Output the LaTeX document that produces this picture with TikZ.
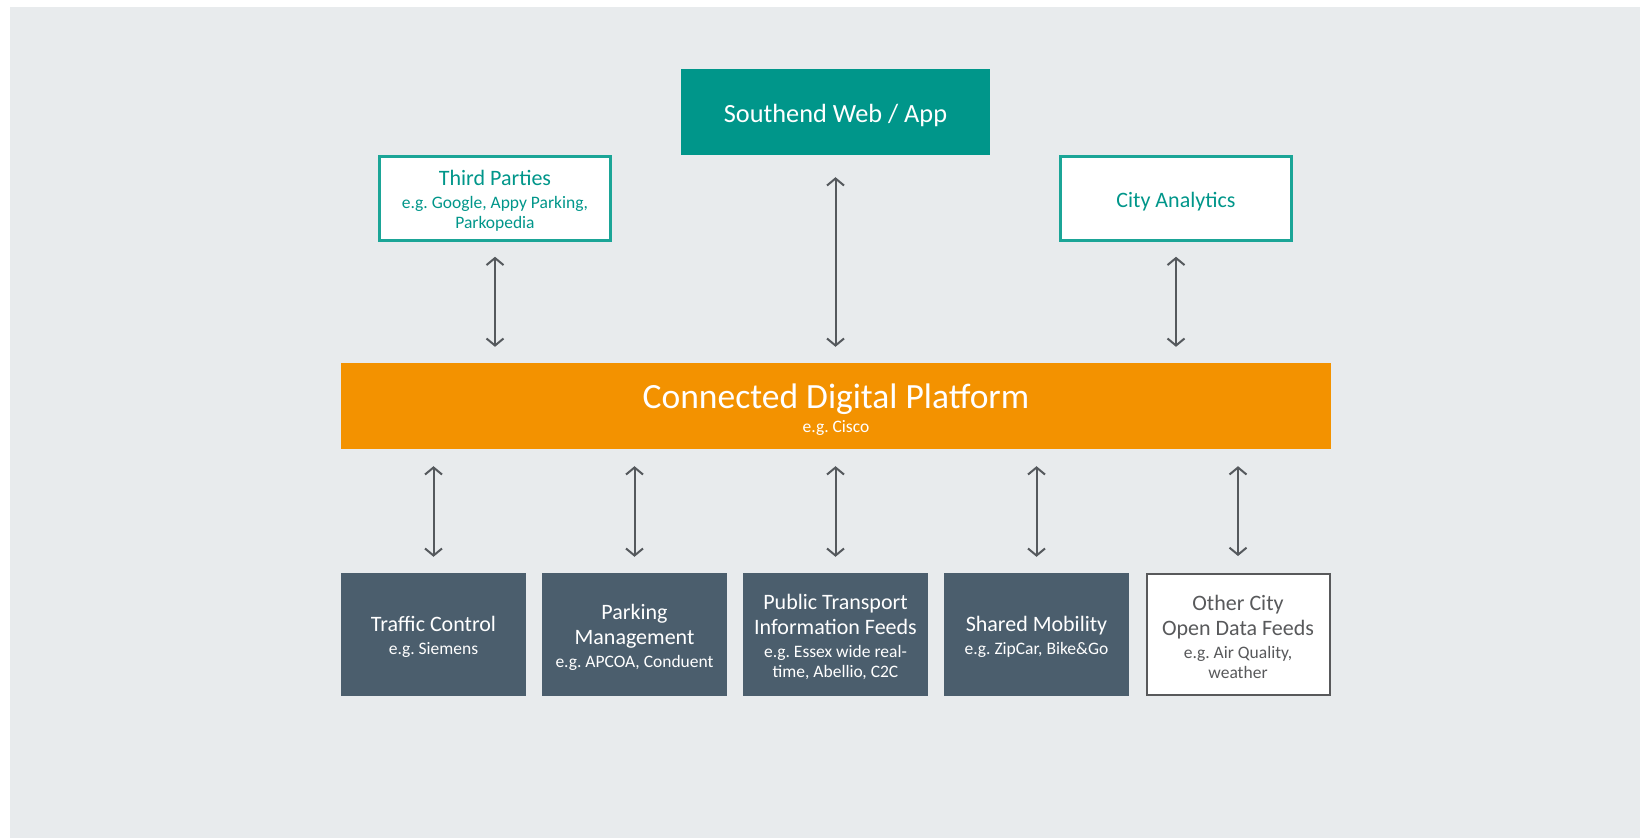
\documentclass[tikz,border=0pt]{standalone}
\usepackage{fontspec}
\setmainfont{Carlito}
\frenchspacing
\usetikzlibrary{arrows.meta}
\definecolor{bggray}{HTML}{E8EBED}
\definecolor{teal1}{HTML}{00968A}
\definecolor{tealline}{HTML}{1BA597}
\definecolor{orange1}{HTML}{F39200}
\definecolor{slate}{HTML}{4B5E6D}
\definecolor{arrgray}{HTML}{55595D}
\definecolor{othergray}{HTML}{58595B}
\newcommand{\ttl}{\fontsize{22}{25.5}\selectfont}
\newcommand{\sbt}{\fontsize{17.5}{20.5}\selectfont}
\tikzset{
  x=1pt, y=-1pt,
  boxbase/.style={rectangle, inner sep=0pt, minimum height=123pt, minimum width=185pt},
  slatebox/.style={boxbase, fill=slate},
  openbox/.style={boxbase, fill=white, draw=othergray, line width=2pt, minimum width=183pt, minimum height=121pt},
  tealbox/.style={rectangle, inner sep=0pt, fill=white, draw=tealline, line width=2.5pt, minimum width=231pt, minimum height=84pt},
  boxtext/.style={inner sep=0pt, align=center, font=\ttl},
  arr/.style={draw=arrgray, line width=2pt, {Straight Barb[length=7pt,width=17pt,line width=2pt]}-{Straight Barb[length=7pt,width=17pt,line width=2pt]}}
}
\begin{document}
\begin{tikzpicture}
\useasboundingbox (0,0) rectangle (1648,839);
\fill[white] (0,0) rectangle (1648,839);
\fill[bggray] (10,7) rectangle (1640,838);

% top row
\node[rectangle, fill=teal1, minimum width=309pt, minimum height=86pt, inner sep=0pt] (web) at (835.5,112) {};
\node[boxtext, text=white, font=\fontsize{26.3}{30}\selectfont] (web-t) at ([yshift=-3pt]web.center) {Southend Web / App};

\node[tealbox] (third) at (495,198.5) {};
\node[boxtext, text=teal1] (third-t) at ([yshift=-2.5pt]third.center) {Third Parties\\[-3pt]\sbt e.g. Google, Appy Parking,\\[-5pt]\sbt Parkopedia};

\node[tealbox] (city) at (1176,198.5) {};
\node[boxtext, text=teal1] (city-t) at ([yshift=-3pt]city.center) {City Analytics};

% platform
\node[rectangle, fill=orange1, minimum width=990pt, minimum height=86pt, inner sep=0pt] (cdp) at (836,406) {};
\node[boxtext, text=white, font=\fontsize{35.5}{24}\selectfont] (cdp-t) at ([yshift=-4pt]cdp.center) {Connected Digital Platform\\\fontsize{17.5}{20}\selectfont e.g. Cisco};

% bottom row
\node[slatebox] (traffic) at (433.5,634.5) {};
\node[slatebox] (parking) at (634.5,634.5) {};
\node[slatebox] (pt) at (835.5,634.5) {};
\node[slatebox] (shared) at (1036.5,634.5) {};
\node[openbox] (other) at (1238,634.5) {};

\node[boxtext, text=white] (traffic-t) at ([yshift=-2.5pt]traffic.center) {Traffic Control\\[-3pt]\sbt e.g. Siemens};
\node[boxtext, text=white] (parking-t) at ([yshift=-2.5pt]parking.center) {Parking\\Management\\[-3pt]\sbt e.g. APCOA, Conduent};
\node[boxtext, text=white] (pt-t) at ([yshift=-2.5pt]pt.center) {Public Transport\\Information Feeds\\[-3pt]\sbt e.g. Essex wide real-\\[-5pt]\sbt time, Abellio, C2C};
\node[boxtext, text=white] (shared-t) at ([yshift=-2.5pt]shared.center) {Shared Mobility\\[-3pt]\sbt e.g. ZipCar, Bike\&Go};
\node[boxtext, text=othergray] (other-t) at ([yshift=-2.5pt]other.center) {Other City\\Open Data Feeds\\[-3pt]\sbt e.g. Air Quality,\\[-5pt]\sbt weather};

% connectors
\draw[arr, shorten <=15pt, shorten >=16pt] (third.south) -- (third.south |- cdp.north);
\draw[arr, shorten <=22pt, shorten >=16pt] (web.south) -- (web.south |- cdp.north);
\draw[arr, shorten <=15pt, shorten >=16pt] (city.south) -- (city.south |- cdp.north);

\draw[arr, shorten <=17pt, shorten >=16pt] (traffic.north |- cdp.south) -- (traffic.north);
\draw[arr, shorten <=17pt, shorten >=16pt] (parking.north |- cdp.south) -- (parking.north);
\draw[arr, shorten <=17pt, shorten >=16pt] (pt.north |- cdp.south) -- (pt.north);
\draw[arr, shorten <=17pt, shorten >=16pt] (shared.north |- cdp.south) -- (shared.north);
\draw[arr, shorten <=17pt, shorten >=17pt] (other.north |- cdp.south) -- (other.north);
\end{tikzpicture}
\end{document}
